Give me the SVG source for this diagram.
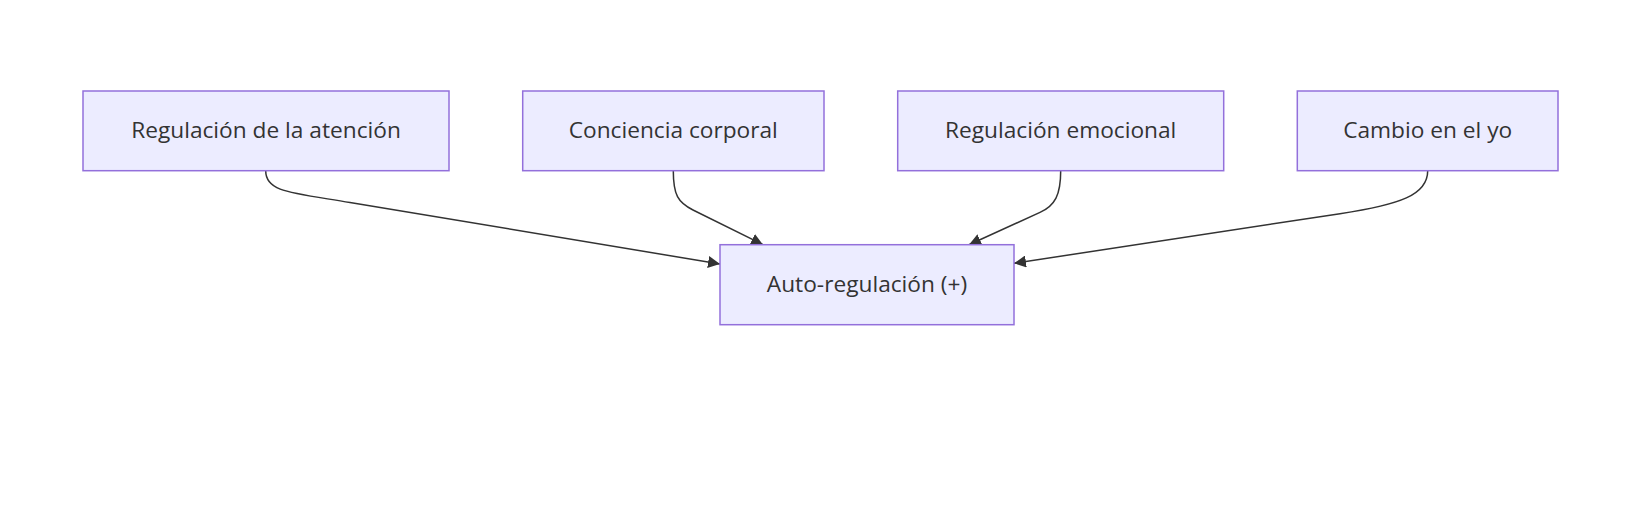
<svg xmlns="http://www.w3.org/2000/svg" width="1645" height="507" viewBox="0 0 1645 507">
<style>
.node rect{fill:#ECECFF;stroke:#9370DB;stroke-width:1.5;}
.node text{font-family:"Open Sans","Noto Sans",sans-serif;font-size:22.7px;fill:#333333;text-anchor:middle;dominant-baseline:central;}
.edge{fill:none;stroke:#333333;stroke-width:1.5;marker-end:url(#arrow);}
</style>
<defs>
<marker id="arrow" viewBox="0 0 10 10" refX="10" refY="5" markerUnits="userSpaceOnUse" markerWidth="12" markerHeight="12" orient="auto">
<path d="M0,0 L10,5 L0,10 z" fill="#333333"/>
</marker>
</defs>
<rect width="1645" height="507" fill="#ffffff"/>
<g id="connectors">
<path class="edge" d="M265.7,170.7 C265.7,192 290,192.5 350,202.5 L720,264"/>
<path class="edge" d="M673.3,170.7 C673.3,195 678,202.5 693,210 L763,244.7"/>
<path class="edge" d="M1060.7,170.7 C1060.7,195 1055,205.5 1040,212.4 L969,244.7"/>
<path class="edge" d="M1427.7,170.7 C1427.7,195 1400,204.6 1340,213.7 L1014,263.3"/>
</g>
<g id="n1" class="node"><rect x="83" y="91" width="366" height="79.7"/><text x="266" y="129">Regulación de la atención</text></g>
<g id="n2" class="node"><rect x="522.7" y="91" width="301.3" height="79.7"/><text x="673.3" y="129">Conciencia corporal</text></g>
<g id="n3" class="node"><rect x="897.7" y="91" width="326" height="79.7"/><text x="1060.7" y="129">Regulación emocional</text></g>
<g id="n4" class="node"><rect x="1297.3" y="91" width="260.7" height="79.7"/><text x="1427.7" y="129">Cambio en el yo</text></g>
<g id="n5" class="node"><rect x="720" y="244.7" width="294" height="80"/><text x="867" y="283">Auto-regulación (+)</text></g>
</svg>
